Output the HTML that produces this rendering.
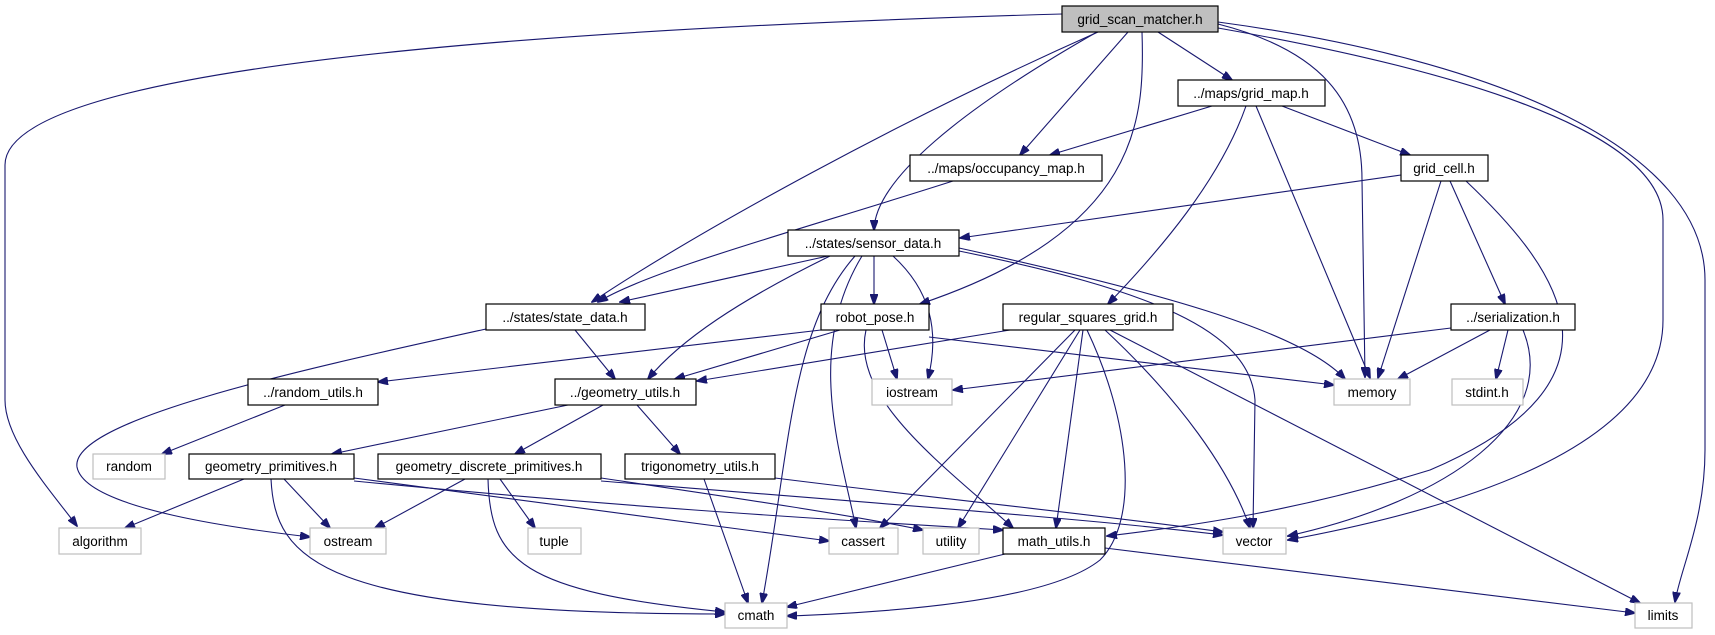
<!DOCTYPE html>
<html><head><meta charset="utf-8"><style>
body{margin:0;background:#fff;}
svg{display:block;}
text{font-family:"Liberation Sans",sans-serif;font-size:13.5px;fill:#000;}
</style></head><body>
<svg width="1715" height="635" viewBox="0 0 1715 635" xmlns="http://www.w3.org/2000/svg">
<defs>
<marker id="a" markerWidth="11" markerHeight="8" refX="10" refY="4" orient="auto" markerUnits="userSpaceOnUse">
<path d="M0,0 L11,4 L0,8 z" fill="#191970" stroke="#191970"/>
</marker>
</defs>
<g fill="none" stroke="#191970" stroke-width="1.1" marker-end="url(#a)">
<path d="M1062,14 C500,30 5,70 5,165 L5,400 C5,440 50,490 77,526"/>
<path d="M1098,32 C900,120 700,230 592,302"/>
<path d="M953,181 C800,230 650,270 598,302"/>
<path d="M828,256 L620,302"/>
<path d="M1128,32 L1020,155"/>
<path d="M1097,32 C960,110 875,180 874,230"/>
<path d="M1142,32 C1145,120 1140,230 920,304"/>
<path d="M1158,32 L1232,80"/>
<path d="M1218,24 C1320,50 1362,100 1362,180 L1365,377"/>
<path d="M1218,28 C1400,60 1663,120 1663,220 L1663,320 C1663,450 1450,510 1288,540"/>
<path d="M1218,22 C1500,60 1705,150 1705,280 L1705,450 C1705,520 1680,570 1675,602"/>
<path d="M1212,106 L1050,155"/>
<path d="M1282,106 L1410,155"/>
<path d="M1246,106 C1220,180 1160,250 1108,304"/>
<path d="M1256,106 L1370,378"/>
<path d="M1401,175 L960,238"/>
<path d="M1441,181 L1378,378"/>
<path d="M1450,181 L1505,304"/>
<path d="M1466,181 C1560,270 1640,380 1430,470 C1300,510 1200,525 1107,536"/>
<path d="M874,256 L874,304"/>
<path d="M830,256 C740,300 680,340 648,379"/>
<path d="M893,256 C930,290 940,330 928,379"/>
<path d="M855,256 C790,330 790,450 762,603"/>
<path d="M862,256 C805,350 840,450 856,528"/>
<path d="M959,248 C1150,290 1300,330 1345,379"/>
<path d="M959,251 C1150,290 1250,330 1255,400 L1253,528"/>
<path d="M840,330 L675,379"/>
<path d="M821,330 L378,382"/>
<path d="M882,330 L897,379"/>
<path d="M929,337 L1334,385"/>
<path d="M866,330 C850,400 950,470 1013,528"/>
<path d="M575,330 L615,379"/>
<path d="M486,329 C300,370 70,420 77,467 C85,510 250,530 310,537"/>
<path d="M1010,330 L697,381"/>
<path d="M1075,330 L880,528"/>
<path d="M1080,330 L958,528"/>
<path d="M1083,330 L1056,528"/>
<path d="M1087,330 C1130,420 1140,520 1100,560 C1050,600 900,612 787,616"/>
<path d="M1105,330 C1180,400 1230,470 1250,528"/>
<path d="M1110,330 L1640,603"/>
<path d="M1451,328 L953,390"/>
<path d="M1490,330 L1398,379"/>
<path d="M1508,330 L1496,379"/>
<path d="M1523,330 C1560,420 1450,500 1288,536"/>
<path d="M285,405 L162,454"/>
<path d="M568,405 L332,454"/>
<path d="M603,405 L515,454"/>
<path d="M637,405 L680,454"/>
<path d="M244,479 L125,528"/>
<path d="M284,479 L330,528"/>
<path d="M271,479 C275,560 320,614 725,614"/>
<path d="M354,478 L829,541"/>
<path d="M354,481 C600,505 800,518 1003,530"/>
<path d="M601,478 C750,500 850,515 923,530"/>
<path d="M601,481 C900,505 1100,520 1223,535"/>
<path d="M775,478 C950,500 1100,515 1223,532"/>
<path d="M465,479 L375,528"/>
<path d="M500,479 L535,528"/>
<path d="M488,479 C490,560 520,592 725,612"/>
<path d="M704,479 L748,603"/>
<path d="M1005,554 L787,607"/>
<path d="M1105,548 L1635,613"/>
</g>
<g stroke-width="1.2">
<rect x="1062" y="6" width="156" height="26" fill="#bfbfbf" stroke="#000"/>
<g fill="#fff" stroke="#000">
<rect x="1178" y="80" width="147" height="26"/>
<rect x="910" y="155" width="192" height="26"/>
<rect x="1401" y="155" width="87" height="26"/>
<rect x="788" y="230" width="171" height="26"/>
<rect x="486" y="304" width="159" height="26"/>
<rect x="821" y="304" width="108" height="26"/>
<rect x="1003" y="304" width="170" height="26"/>
<rect x="1451" y="304" width="124" height="26"/>
<rect x="248" y="379" width="130" height="26"/>
<rect x="555" y="379" width="141" height="26"/>
<rect x="189" y="454" width="165" height="25"/>
<rect x="378" y="454" width="223" height="25"/>
<rect x="625" y="454" width="150" height="25"/>
<rect x="1003" y="528" width="102" height="26"/>
</g>
<g fill="#fff" stroke="#bfbfbf">
<rect x="872" y="379" width="80" height="26"/>
<rect x="1334" y="379" width="76" height="26"/>
<rect x="1452" y="379" width="71" height="26"/>
<rect x="93" y="454" width="72" height="25"/>
<rect x="59" y="528" width="82" height="26"/>
<rect x="310" y="528" width="76" height="26"/>
<rect x="528" y="528" width="53" height="26"/>
<rect x="829" y="528" width="69" height="26"/>
<rect x="923" y="528" width="56" height="26"/>
<rect x="1223" y="528" width="63" height="26"/>
<rect x="725" y="603" width="62" height="25"/>
<rect x="1635" y="603" width="57" height="25"/>
</g>
</g>
<g text-anchor="middle">
<text x="1140" y="24">grid_scan_matcher.h</text>
<text x="1251" y="98">../maps/grid_map.h</text>
<text x="1006" y="173">../maps/occupancy_map.h</text>
<text x="1444" y="173">grid_cell.h</text>
<text x="873" y="248">../states/sensor_data.h</text>
<text x="565" y="322">../states/state_data.h</text>
<text x="875" y="322">robot_pose.h</text>
<text x="1088" y="322">regular_squares_grid.h</text>
<text x="1513" y="322">../serialization.h</text>
<text x="313" y="397">../random_utils.h</text>
<text x="625" y="397">../geometry_utils.h</text>
<text x="271" y="471">geometry_primitives.h</text>
<text x="489" y="471">geometry_discrete_primitives.h</text>
<text x="700" y="471">trigonometry_utils.h</text>
<text x="1054" y="546">math_utils.h</text>
<text x="912" y="397">iostream</text>
<text x="1372" y="397">memory</text>
<text x="1487" y="397">stdint.h</text>
<text x="129" y="471">random</text>
<text x="100" y="546">algorithm</text>
<text x="348" y="546">ostream</text>
<text x="554" y="546">tuple</text>
<text x="863" y="546">cassert</text>
<text x="951" y="546">utility</text>
<text x="1254" y="546">vector</text>
<text x="756" y="620">cmath</text>
<text x="1663" y="620">limits</text>
</g>
</svg>
</body></html>
